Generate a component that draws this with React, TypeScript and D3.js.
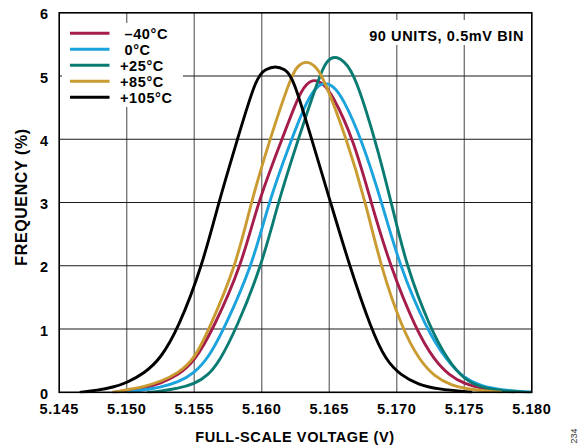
import React from "react";
import * as d3 from "d3";

// ---- data ----
const xTickValues = [5.145, 5.15, 5.155, 5.16, 5.165, 5.17, 5.175, 5.18];
const xTickLabels = ["5.145", "5.150", "5.155", "5.160", "5.165", "5.170", "5.175", "5.180"];
const yTickValues = [0, 1, 2, 3, 4, 5, 6];
const yTickLabels = ["0", "1", "2", "3", "4", "5", "6"];

const seriesLabels = ["\u201340°C", "0°C", "+25°C", "+85°C", "+105°C"];
const seriesColors = ["#a51d4b", "#1aa3dc", "#0a7b72", "#c99b30", "#000000"];

const minus40: [number, number][] = [
  [5.1491, 0], [5.15, 0.03], [5.1513, 0.07], [5.1525, 0.14], [5.1538, 0.27], [5.155, 0.48],
  [5.1564, 1.0], [5.1585, 2.0], [5.1597, 3.0], [5.1615, 4.0], [5.1627, 4.68], [5.1633, 4.88],
  [5.1639, 4.95], [5.1645, 4.89], [5.1652, 4.72], [5.1668, 4.0], [5.1681, 3.0], [5.1695, 2.0],
  [5.1714, 1.0], [5.1728, 0.5], [5.1739, 0.27], [5.175, 0.13], [5.1765, 0.05], [5.1787, 0],
];
const zero: [number, number][] = [
  [5.1501, 0], [5.1513, 0.04], [5.1525, 0.08], [5.1538, 0.16], [5.155, 0.3], [5.1561, 0.56],
  [5.1572, 1.0], [5.1593, 2.0], [5.1605, 3.0], [5.1622, 4.0], [5.1634, 4.64], [5.1641, 4.84],
  [5.1647, 4.9], [5.1653, 4.84], [5.166, 4.66], [5.1674, 4.0], [5.1689, 3.0], [5.1702, 2.0],
  [5.1722, 1.0], [5.1737, 0.5], [5.175, 0.22], [5.1762, 0.1], [5.1778, 0.03], [5.18, 0],
];
const plus25: [number, number][] = [
  [5.1516, 0], [5.1525, 0.02], [5.1538, 0.06], [5.155, 0.13], [5.156, 0.26], [5.1569, 0.5],
  [5.1581, 1.0], [5.16, 2.0], [5.1612, 3.0], [5.1627, 4.0], [5.1643, 5.02], [5.1648, 5.24],
  [5.1654, 5.32], [5.1661, 5.24], [5.1669, 5.02], [5.1684, 4.0], [5.1696, 3.0], [5.1707, 2.0],
  [5.1725, 1.0], [5.1738, 0.5], [5.175, 0.2], [5.1762, 0.08], [5.1778, 0.02], [5.1799, 0],
];
const plus85: [number, number][] = [
  [5.149, 0], [5.15, 0.04], [5.1513, 0.09], [5.1525, 0.17], [5.1538, 0.3], [5.155, 0.52],
  [5.1561, 1.0], [5.1581, 2.0], [5.1592, 3.0], [5.1606, 4.0], [5.1622, 5.02], [5.1627, 5.17],
  [5.1633, 5.24], [5.1639, 5.17], [5.1645, 5.02], [5.1663, 4.0], [5.1677, 3.0], [5.1688, 2.0],
  [5.1704, 1.0], [5.1717, 0.5], [5.1728, 0.25], [5.174, 0.11], [5.1755, 0.04], [5.1777, 0],
];
const plus105: [number, number][] = [
  [5.1466, 0], [5.1478, 0.03], [5.149, 0.08], [5.15, 0.15], [5.1513, 0.3], [5.1525, 0.53],
  [5.1538, 1.0], [5.1556, 2.0], [5.1568, 3.0], [5.1582, 4.0], [5.1596, 5.0], [5.1603, 5.11],
  [5.161, 5.16], [5.1617, 5.11], [5.1623, 5.0], [5.1637, 4.0], [5.1651, 3.0], [5.1665, 2.0],
  [5.1681, 1.0], [5.1692, 0.5], [5.1703, 0.27], [5.1716, 0.12], [5.173, 0.05], [5.1755, 0],
];
const seriesData = [minus40, zero, plus25, plus85, plus105];

const annotation = "90 UNITS, 0.5mV BIN";
const xTitle = "FULL-SCALE VOLTAGE (V)";
const yTitle = "FREQUENCY (%)";
const figId = "234";

// ---- layout ----
const W = 585;
const H = 448;
const L = 59.2;
const R = 531.8;
const T = 12.8;
const B = 392.3;
const FONT = "'Liberation Sans', Arial, Helvetica, sans-serif";

export default function App() {
  const x = d3.scaleLinear().domain([5.145, 5.18]).range([L, R]);
  const y = d3.scaleLinear().domain([0, 6]).range([B, T]);
  const line = d3
    .line<[number, number]>()
    .x((d) => x(d[0]))
    .y((d) => Math.min(B, y(d[1])))
    .curve(d3.curveBasis);

  const legendX0 = 70;
  const legendX1 = 109.5;
  const legendY0 = 33.3;
  const legendDy = 16;

  return (
    <svg
      width={W}
      height={H}
      viewBox={`0 0 ${W} ${H}`}
      style={{ position: "absolute", left: 0, top: 0, background: "#fff" }}
    >
      <defs>
        <clipPath id="plotClip">
          <rect x={L} y={T} width={R - L} height={B - T + 1} />
        </clipPath>
      </defs>
      <rect x={0} y={0} width={W} height={H} fill="#fff" />
      {/* vertical gridlines */}
      {xTickValues.slice(1, -1).map((v, i) => (
        <line key={"vx" + i} x1={x(v)} x2={x(v)} y1={T} y2={B} stroke="#6f6f6f" strokeWidth={1.3} />
      ))}
      {/* horizontal gridlines */}
      {yTickValues.slice(1, -1).map((v, i) => (
        <line key={"hy" + i} x1={L} x2={R} y1={y(v)} y2={y(v)} stroke="#1a1a1a" strokeWidth={1.1} />
      ))}
      {/* white backgrounds of legend and note */}
      <rect x={62} y={23} width={121} height={84} fill="#fff" />
      <rect x={364} y={20} width={165} height={25} fill="#fff" />

      {/* curves */}
      <g clipPath="url(#plotClip)">
        {seriesData.map((d, i) => (
          <path
            key={"s" + i}
            d={line(d) || ""}
            fill="none"
            stroke={seriesColors[i]}
            strokeWidth={2.9}
            strokeLinejoin="round"
            strokeLinecap="round"
          />
        ))}
      </g>

      {/* frame */}
      <rect x={L} y={T} width={R - L} height={B - T} fill="none" stroke="#000" strokeWidth={1.6} />

      {/* legend */}
      {seriesLabels.map((lab, i) => {
        const yy = legendY0 + i * legendDy;
        const tx = lab.startsWith("+") ? 120 : 124.5;
        return (
          <g key={"lg" + i}>
            <line x1={legendX0} x2={legendX1} y1={yy} y2={yy} stroke={seriesColors[i]} strokeWidth={3} />
            <text
              x={tx}
              y={yy + 5.6}
              fontFamily={FONT}
              fontWeight="bold"
              fontSize={14.5}
              letterSpacing={0.6}
              fill="#000"
            >
              {lab}
            </text>
          </g>
        );
      })}

      {/* annotation */}
      <text
        x={524}
        y={40.7}
        textAnchor="end"
        fontFamily={FONT}
        fontWeight="bold"
        fontSize={14.5}
        letterSpacing={0.6}
        fill="#000"
      >
        {annotation}
      </text>

      {/* x tick labels */}
      {xTickValues.map((v, i) => (
        <text
          key={"xt" + i}
          x={x(v)}
          y={414.3}
          textAnchor="middle"
          fontFamily={FONT}
          fontWeight="bold"
          fontSize={14.5}
          letterSpacing={0.6}
          fill="#000"
        >
          {xTickLabels[i]}
        </text>
      ))}
      {/* y tick labels */}
      {yTickValues.map((v, i) => (
        <text
          key={"yt" + i}
          x={48}
          y={y(v) + 6.6}
          textAnchor="end"
          fontFamily={FONT}
          fontWeight="bold"
          fontSize={14.5}
          fill="#000"
        >
          {yTickLabels[i]}
        </text>
      ))}

      {/* axis titles */}
      <text
        x={295}
        y={442}
        textAnchor="middle"
        fontFamily={FONT}
        fontWeight="bold"
        fontSize={14.5}
        letterSpacing={0.6}
        fill="#000"
      >
        {xTitle}
      </text>
      <text
        transform={`translate(26.5, ${197}) rotate(-90)`}
        textAnchor="middle"
        fontFamily={FONT}
        fontWeight="bold"
        fontSize={16}
        letterSpacing={0.6}
        fill="#000"
      >
        {yTitle}
      </text>

      {/* figure id */}
      <text
        transform={`translate(577, 436) rotate(-90)`}
        textAnchor="middle"
        fontFamily={FONT}
        fontSize={9}
        fill="#333"
      >
        {figId}
      </text>
    </svg>
  );
}
